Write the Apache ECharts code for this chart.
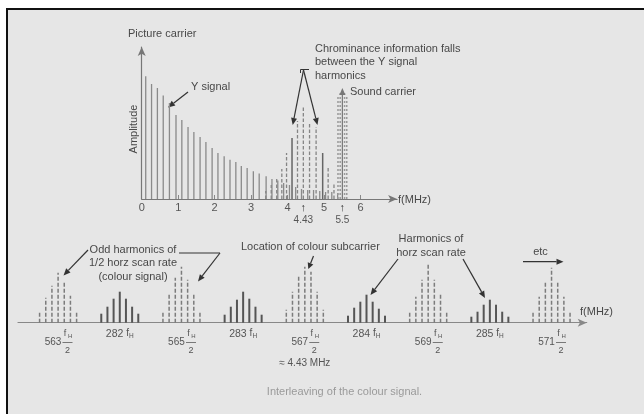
<!DOCTYPE html>
<html><head><meta charset="utf-8">
<script src="https://cdn.jsdelivr.net/npm/echarts@6/dist/echarts.min.js"></script>
<style>html,body{margin:0;padding:0;background:#fff}#c{width:644px;height:414px}</style>
</head><body><div id="c"></div>
<script>
// ---------------- data ----------------
// Upper spectrum (MHz, arbitrary amplitude)
const topTickValues = [0, 1, 2, 3, 4, 5, 6];
const topMarkerValues = [4.43, 5.5];
const topMarkerLabels = ['4.43', '5.5'];

const ySignalFreq = [0.11,0.27,0.43,0.59,0.76,0.94,1.10,1.27,1.43,1.60,1.76,1.93,2.09,2.26,2.42,2.58,2.73,2.89,3.06,3.22,3.41,3.57,3.73,3.89,4.05,4.22,4.38,4.55,4.71,4.88,5.04,5.21,5.37];
const ySignalAmp  = [122.7,115,111,103.5,96,84,79,72,67,62,57,51,46,42.7,39.3,37,33,31,27.7,25.5,22.7,20,18.5,16,14,12,10,9,9,8,7,7,6];
const yPeakFreq = [4.12, 4.96];
const yPeakAmp  = [61, 46];
const chromaFreq = [3.40,3.55,3.70,3.84,3.97,4.27,4.43,4.60,4.78,5.11,5.27];
const chromaAmp  = [8,14,22,30,46,78,92,77,72,31,16];
const soundFreq = [5.5];
const soundAmp  = [111];
const soundBandFreq = [5.38, 5.44, 5.56, 5.62];
const soundBandAmp  = [104, 108, 108, 104];

// Lower spectrum (units of fH/2)
const lowerCentres = [563, 564, 565, 566, 567, 568, 569, 570, 571];
const lowerNumbers = ['563', '282', '565', '283', '567', '284', '569', '285', '571'];
const lowerKind    = ['half', 'full', 'half', 'full', 'half', 'full', 'half', 'full', 'half'];
const lowerNotes   = ['', '', '', '', '\u2248 4.43 MHz', '', '', '', ''];
const lineOffsets  = [-0.3, -0.2, -0.1, 0, 0.1, 0.2, 0.3];
const lowerHeights = [
  [10, 25, 37, 50, 42, 27, 12],
  [9, 16, 24, 31, 24, 16, 9],
  [12, 28, 45, 56, 43, 28, 12],
  [8, 16, 23, 31, 24, 16, 8],
  [13, 31, 48, 56, 51, 31, 13],
  [7, 15, 21, 28, 21, 14, 7],
  [11, 26, 43, 58, 43, 28, 11],
  [6, 11, 18, 23, 18, 11, 6],
  [11, 26, 41, 55, 40, 26, 11]
];

// ---------------- helpers ----------------
const FONT = "'Liberation Sans', Arial, sans-serif";
function pairs(xs, ys) { return xs.map((x, i) => [x, ys[i]]); }
function stemSeries(idx, data, color, width, dash, z) {
  return {
    type: 'custom', xAxisIndex: idx, yAxisIndex: idx, silent: true, animation: false, clip: false, z: z || 2,
    data: data,
    renderItem: function (params, api) {
      const a = api.coord([api.value(0), 0]);
      const b = api.coord([api.value(0), api.value(1)]);
      return { type: 'line', shape: { x1: a[0], y1: a[1], x2: b[0], y2: b[1] },
        style: { stroke: color, lineWidth: width, lineDash: dash || null } };
    }
  };
}
function arrowEl(x1, y1, x2, y2, color, len, hw) {
  len = len || 7; hw = hw || 3;
  const dx = x2 - x1, dy = y2 - y1, L = Math.sqrt(dx * dx + dy * dy);
  const ux = dx / L, uy = dy / L;
  const bx = x2 - ux * len, by = y2 - uy * len;
  return { type: 'group', z: 100, children: [
    { type: 'line', shape: { x1: x1, y1: y1, x2: bx, y2: by }, style: { stroke: color, lineWidth: 1.2 } },
    { type: 'polygon', shape: { points: [[x2, y2], [bx - uy * hw, by + ux * hw], [bx + uy * hw, by - ux * hw]] }, style: { fill: color } }
  ]};
}
function txt(text, x, y, opts) {
  opts = opts || {};
  return { type: 'text', x: x, y: y, z: 100, rotation: opts.rotation || 0,
    style: { text: text, fill: opts.fill || '#484848', font: (opts.size || 11) + 'px ' + FONT,
      textAlign: opts.align || 'left', textVerticalAlign: opts.va || 'middle', verticalAlign: opts.va || 'middle',
      lineHeight: opts.lh || 13 } };
}

// build lower data
const lowerDashed = [], lowerSolid = [];
lowerCentres.forEach((c, k) => {
  lineOffsets.forEach((o, j) => {
    const p = [c + o, lowerHeights[k][j]];
    (lowerKind[k] === 'half' ? lowerDashed : lowerSolid).push(p);
  });
});

const chart = echarts.init(document.getElementById('c'), null, { renderer: 'canvas' });
const annColor = '#333';
chart.setOption({
  backgroundColor: '#e6e6e6',
  animation: false,
  textStyle: { fontFamily: FONT },
  grid: [
    { left: 141.7, top: 47, width: 255.4, height: 152 },
    { left: 18, top: 262.7, width: 568.7, height: 60 }
  ],
  xAxis: [
    { gridIndex: 0, type: 'value', min: 0, max: 7,
      axisLine: { show: true, onZero: false, symbol: ['none', 'arrow'], symbolSize: [6, 9], lineStyle: { color: '#777', width: 1.2 } },
      axisTick: { show: true, inside: true, length: 4, customValues: [1, 2, 3, 4, 5, 6], lineStyle: { color: '#888' } },
      splitLine: { show: false },
      axisLabel: { customValues: topTickValues.concat(topMarkerValues).sort((a, b) => a - b), margin: 3, color: '#555', fontFamily: FONT,
        formatter: function (v) {
          const i = topMarkerValues.indexOf(v);
          if (i >= 0) return '{ar|\u2191}\n{mk|' + topMarkerLabels[i] + '}';
          return '{t|' + v + '}';
        },
        rich: {
          t: { fontSize: 11, lineHeight: 11, color: '#555', fontFamily: FONT },
          ar: { fontSize: 11, lineHeight: 11, color: '#333', fontFamily: FONT },
          mk: { fontSize: 10, lineHeight: 14, color: '#555', fontFamily: FONT }
        } } },
    { gridIndex: 1, type: 'value', min: 562.35, max: 571.57,
      axisLine: { show: true, onZero: false, symbol: ['none', 'arrow'], symbolSize: [6, 9], lineStyle: { color: '#888', width: 1.2 } },
      axisTick: { show: false }, splitLine: { show: false },
      axisLabel: { customValues: lowerCentres, margin: 5, color: '#555', fontFamily: FONT,
        formatter: function (v) {
          const k = lowerCentres.indexOf(v);
          if (k < 0) return '';
          if (lowerKind[k] === 'full') return '{e|' + lowerNumbers[k] + ' }{f2|f}{h2|H}';
          let s = '{sp| }{f|f}{h|H}\n{n|' + lowerNumbers[k] + '}{bar|\u2014}\n{sp| }{d|2}';
          if (lowerNotes[k]) s += '\n{note|' + lowerNotes[k] + '}';
          return s;
        },
        rich: {
          sp: { width: 19, lineHeight: 1, fontSize: 9, fontFamily: FONT },
          f: { width: 5, fontSize: 9, lineHeight: 12, color: '#555', fontFamily: FONT },
          h: { width: 5, fontSize: 6, lineHeight: 12, color: '#555', verticalAlign: 'bottom', fontFamily: FONT },
          n: { width: 19, fontSize: 10, lineHeight: 6, color: '#555', fontFamily: FONT },
          bar: { width: 10, fontSize: 10, lineHeight: 6, color: '#555', fontFamily: FONT },
          d: { width: 10, fontSize: 9, lineHeight: 10, color: '#555', fontFamily: FONT },
          note: { fontSize: 10, lineHeight: 16, color: '#555', fontFamily: FONT },
          e: { fontSize: 10.5, lineHeight: 12, color: '#555', fontFamily: FONT },
          f2: { fontSize: 10, lineHeight: 12, color: '#555', fontFamily: FONT },
          h2: { fontSize: 6.5, lineHeight: 12, color: '#555', verticalAlign: 'bottom', fontFamily: FONT }
        } } }
  ],
  yAxis: [
    { gridIndex: 0, type: 'value', min: 0, max: 152,
      axisLine: { show: true, symbol: ['none', 'arrow'], symbolSize: [6, 9], lineStyle: { color: '#777', width: 1.2 } },
      axisTick: { show: false }, axisLabel: { show: false }, splitLine: { show: false } },
    { gridIndex: 1, type: 'value', min: 0, max: 60, show: false }
  ],
  series: [
    stemSeries(0, pairs(ySignalFreq, ySignalAmp), '#8a8a8a', 1.3, null, 2),
    stemSeries(0, pairs(chromaFreq, chromaAmp), '#858585', 1.3, [3.5, 2], 3),
    stemSeries(0, pairs(yPeakFreq, yPeakAmp), '#666', 1.5, null, 4),
    stemSeries(0, pairs(soundBandFreq, soundBandAmp), '#999', 1.5, [2, 2], 3),
    {
      type: 'custom', xAxisIndex: 0, yAxisIndex: 0, silent: true, animation: false, clip: false, z: 5,
      data: pairs(soundFreq, soundAmp),
      renderItem: function (params, api) {
        const a = api.coord([api.value(0), 0]);
        const b = api.coord([api.value(0), api.value(1)]);
        return { type: 'group', children: [
          { type: 'line', shape: { x1: a[0], y1: a[1], x2: b[0], y2: b[1] + 6 }, style: { stroke: '#777', lineWidth: 1.2 } },
          { type: 'polygon', shape: { points: [[b[0], b[1]], [b[0] - 3, b[1] + 7], [b[0] + 3, b[1] + 7]] }, style: { fill: '#777' } }
        ]};
      }
    },
    stemSeries(1, lowerDashed, '#7c7c7c', 1.5, [4, 2], 2),
    stemSeries(1, lowerSolid, '#555', 2, null, 3)
  ],
  graphic: [
    { type: 'rect', shape: { x: 0, y: 0, width: 644, height: 8 }, style: { fill: '#fff' }, z: 100 },
    { type: 'rect', shape: { x: 0, y: 0, width: 6, height: 414 }, style: { fill: '#fff' }, z: 100 },
    { type: 'line', shape: { x1: 6, y1: 9, x2: 644, y2: 9 }, style: { stroke: '#111', lineWidth: 2 }, z: 101 },
    { type: 'line', shape: { x1: 7, y1: 8, x2: 7, y2: 414 }, style: { stroke: '#111', lineWidth: 2 }, z: 101 },

    txt('Picture carrier', 128, 34),
    txt('Amplitude', 134, 129, { rotation: Math.PI / 2, align: 'center' }),
    txt('f(MHz)', 398, 199.5),
    txt('Y signal', 191, 87),
    arrowEl(188, 92, 168, 107.5, annColor),
    txt('Chrominance information falls\nbetween the Y signal\nharmonics', 315, 42, { va: 'top', lh: 13.5 }),
    { type: 'polyline', z: 100, shape: { points: [[300.5, 73], [300.5, 69.5], [309, 69.5]] }, style: { stroke: annColor, lineWidth: 1, fill: null } },
    arrowEl(303.5, 70, 292.7, 125, annColor),
    arrowEl(303.5, 70, 317.5, 125, annColor),
    txt('Sound carrier', 350, 92),

    txt('Odd harmonics of\n1/2 horz scan rate\n(colour signal)', 133, 243, { align: 'center', va: 'top', lh: 13.5 }),
    arrowEl(88, 250, 63.5, 275.5, annColor),
    { type: 'polyline', z: 100, shape: { points: [[179, 253], [220, 253]] }, style: { stroke: annColor, lineWidth: 1.2, fill: null } },
    arrowEl(220, 253, 198, 281.5, annColor),
    txt('Location of colour subcarrier', 241, 246.5),
    arrowEl(313.5, 256, 308.3, 269, annColor, 6, 3),
    txt('Harmonics of\nhorz scan rate', 431, 231.5, { align: 'center', va: 'top', lh: 14 }),
    arrowEl(398, 259, 370.5, 295, annColor),
    arrowEl(463, 259, 485, 298, annColor),
    txt('etc', 540.5, 251.5, { align: 'center' }),
    arrowEl(523, 261.7, 563.5, 261.7, annColor),
    txt('f(MHz)', 580, 311.5),
    txt('Interleaving of the colour signal.', 344.5, 391.5, { align: 'center', fill: '#9a9a9a' })
  ]
});
</script></body></html>
